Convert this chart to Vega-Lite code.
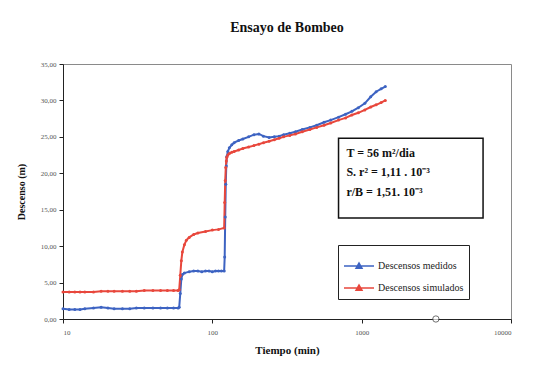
{
  "$schema": "https://vega.github.io/schema/vega-lite/v6.json",
  "width": 448,
  "height": 255,
  "autosize": "none",
  "padding": {"left": 63, "top": 64, "right": 45, "bottom": 47},
  "background": "white",
  "config": {
    "locale": {"number": {"decimal": ",", "thousands": ".", "grouping": [3], "currency": ["", ""]}},
    "view": {"stroke": "#8a8a8a", "strokeWidth": 1},
    "font": "Liberation Serif",
    "axis": {"labelOverlap": false, "grid": false},
    "axisY": {"labelOverlap": false, "tickCount": 8}
  },
  "title": {
    "text": "Ensayo de Bombeo",
    "font": "Liberation Serif",
    "fontSize": 14,
    "fontWeight": "bold",
    "color": "#111",
    "anchor": "middle",
    "offset": 25
  },
  "datasets": {
    "bombeo": [
      {"t": 10, "d": 1.4, "serie": "Descensos medidos"},
      {"t": 11, "d": 1.3, "serie": "Descensos medidos"},
      {"t": 12, "d": 1.3, "serie": "Descensos medidos"},
      {"t": 13, "d": 1.3, "serie": "Descensos medidos"},
      {"t": 14, "d": 1.4, "serie": "Descensos medidos"},
      {"t": 16, "d": 1.5, "serie": "Descensos medidos"},
      {"t": 18, "d": 1.6, "serie": "Descensos medidos"},
      {"t": 20, "d": 1.5, "serie": "Descensos medidos"},
      {"t": 22, "d": 1.4, "serie": "Descensos medidos"},
      {"t": 25, "d": 1.4, "serie": "Descensos medidos"},
      {"t": 28, "d": 1.4, "serie": "Descensos medidos"},
      {"t": 31, "d": 1.5, "serie": "Descensos medidos"},
      {"t": 35, "d": 1.5, "serie": "Descensos medidos"},
      {"t": 40, "d": 1.5, "serie": "Descensos medidos"},
      {"t": 45, "d": 1.5, "serie": "Descensos medidos"},
      {"t": 50, "d": 1.5, "serie": "Descensos medidos"},
      {"t": 55, "d": 1.5, "serie": "Descensos medidos"},
      {"t": 59, "d": 1.5, "serie": "Descensos medidos"},
      {"t": 60, "d": 1.6, "serie": "Descensos medidos"},
      {"t": 61, "d": 3.5, "serie": "Descensos medidos"},
      {"t": 62, "d": 5.5, "serie": "Descensos medidos"},
      {"t": 63, "d": 6.1, "serie": "Descensos medidos"},
      {"t": 65, "d": 6.3, "serie": "Descensos medidos"},
      {"t": 70, "d": 6.5, "serie": "Descensos medidos"},
      {"t": 75, "d": 6.6, "serie": "Descensos medidos"},
      {"t": 80, "d": 6.6, "serie": "Descensos medidos"},
      {"t": 85, "d": 6.5, "serie": "Descensos medidos"},
      {"t": 90, "d": 6.6, "serie": "Descensos medidos"},
      {"t": 95, "d": 6.6, "serie": "Descensos medidos"},
      {"t": 100, "d": 6.5, "serie": "Descensos medidos"},
      {"t": 105, "d": 6.6, "serie": "Descensos medidos"},
      {"t": 110, "d": 6.6, "serie": "Descensos medidos"},
      {"t": 115, "d": 6.6, "serie": "Descensos medidos"},
      {"t": 120, "d": 6.6, "serie": "Descensos medidos"},
      {"t": 121, "d": 8.5, "serie": "Descensos medidos"},
      {"t": 122, "d": 14.0, "serie": "Descensos medidos"},
      {"t": 123, "d": 18.5, "serie": "Descensos medidos"},
      {"t": 124, "d": 21.0, "serie": "Descensos medidos"},
      {"t": 125, "d": 22.3, "serie": "Descensos medidos"},
      {"t": 127, "d": 23.0, "serie": "Descensos medidos"},
      {"t": 130, "d": 23.5, "serie": "Descensos medidos"},
      {"t": 135, "d": 23.9, "serie": "Descensos medidos"},
      {"t": 140, "d": 24.2, "serie": "Descensos medidos"},
      {"t": 150, "d": 24.5, "serie": "Descensos medidos"},
      {"t": 160, "d": 24.7, "serie": "Descensos medidos"},
      {"t": 175, "d": 25.0, "serie": "Descensos medidos"},
      {"t": 190, "d": 25.3, "serie": "Descensos medidos"},
      {"t": 205, "d": 25.4, "serie": "Descensos medidos"},
      {"t": 220, "d": 25.1, "serie": "Descensos medidos"},
      {"t": 240, "d": 24.9, "serie": "Descensos medidos"},
      {"t": 260, "d": 25.0, "serie": "Descensos medidos"},
      {"t": 280, "d": 25.1, "serie": "Descensos medidos"},
      {"t": 300, "d": 25.3, "serie": "Descensos medidos"},
      {"t": 330, "d": 25.5, "serie": "Descensos medidos"},
      {"t": 360, "d": 25.7, "serie": "Descensos medidos"},
      {"t": 400, "d": 26.0, "serie": "Descensos medidos"},
      {"t": 450, "d": 26.3, "serie": "Descensos medidos"},
      {"t": 500, "d": 26.6, "serie": "Descensos medidos"},
      {"t": 560, "d": 27.0, "serie": "Descensos medidos"},
      {"t": 620, "d": 27.3, "serie": "Descensos medidos"},
      {"t": 700, "d": 27.7, "serie": "Descensos medidos"},
      {"t": 780, "d": 28.1, "serie": "Descensos medidos"},
      {"t": 860, "d": 28.5, "serie": "Descensos medidos"},
      {"t": 950, "d": 29.0, "serie": "Descensos medidos"},
      {"t": 1050, "d": 29.6, "serie": "Descensos medidos"},
      {"t": 1150, "d": 30.5, "serie": "Descensos medidos"},
      {"t": 1250, "d": 31.2, "serie": "Descensos medidos"},
      {"t": 1350, "d": 31.6, "serie": "Descensos medidos"},
      {"t": 1440, "d": 31.9, "serie": "Descensos medidos"},

      {"t": 10, "d": 3.7, "serie": "Descensos simulados"},
      {"t": 11, "d": 3.7, "serie": "Descensos simulados"},
      {"t": 12, "d": 3.7, "serie": "Descensos simulados"},
      {"t": 13, "d": 3.7, "serie": "Descensos simulados"},
      {"t": 14, "d": 3.7, "serie": "Descensos simulados"},
      {"t": 16, "d": 3.7, "serie": "Descensos simulados"},
      {"t": 18, "d": 3.8, "serie": "Descensos simulados"},
      {"t": 20, "d": 3.8, "serie": "Descensos simulados"},
      {"t": 22, "d": 3.8, "serie": "Descensos simulados"},
      {"t": 25, "d": 3.8, "serie": "Descensos simulados"},
      {"t": 28, "d": 3.8, "serie": "Descensos simulados"},
      {"t": 31, "d": 3.8, "serie": "Descensos simulados"},
      {"t": 35, "d": 3.9, "serie": "Descensos simulados"},
      {"t": 40, "d": 3.9, "serie": "Descensos simulados"},
      {"t": 45, "d": 3.9, "serie": "Descensos simulados"},
      {"t": 50, "d": 3.9, "serie": "Descensos simulados"},
      {"t": 55, "d": 3.9, "serie": "Descensos simulados"},
      {"t": 59, "d": 3.9, "serie": "Descensos simulados"},
      {"t": 60, "d": 4.0, "serie": "Descensos simulados"},
      {"t": 61, "d": 6.0, "serie": "Descensos simulados"},
      {"t": 62, "d": 8.0, "serie": "Descensos simulados"},
      {"t": 63, "d": 9.2, "serie": "Descensos simulados"},
      {"t": 65, "d": 10.2, "serie": "Descensos simulados"},
      {"t": 67, "d": 10.8, "serie": "Descensos simulados"},
      {"t": 70, "d": 11.2, "serie": "Descensos simulados"},
      {"t": 75, "d": 11.6, "serie": "Descensos simulados"},
      {"t": 80, "d": 11.8, "serie": "Descensos simulados"},
      {"t": 90, "d": 12.0, "serie": "Descensos simulados"},
      {"t": 100, "d": 12.2, "serie": "Descensos simulados"},
      {"t": 110, "d": 12.3, "serie": "Descensos simulados"},
      {"t": 120, "d": 12.5, "serie": "Descensos simulados"},
      {"t": 121, "d": 16.0, "serie": "Descensos simulados"},
      {"t": 122, "d": 19.0, "serie": "Descensos simulados"},
      {"t": 123, "d": 20.8, "serie": "Descensos simulados"},
      {"t": 124, "d": 21.7, "serie": "Descensos simulados"},
      {"t": 125, "d": 22.2, "serie": "Descensos simulados"},
      {"t": 127, "d": 22.5, "serie": "Descensos simulados"},
      {"t": 130, "d": 22.7, "serie": "Descensos simulados"},
      {"t": 135, "d": 22.9, "serie": "Descensos simulados"},
      {"t": 140, "d": 23.0, "serie": "Descensos simulados"},
      {"t": 150, "d": 23.2, "serie": "Descensos simulados"},
      {"t": 160, "d": 23.4, "serie": "Descensos simulados"},
      {"t": 175, "d": 23.6, "serie": "Descensos simulados"},
      {"t": 190, "d": 23.8, "serie": "Descensos simulados"},
      {"t": 205, "d": 24.0, "serie": "Descensos simulados"},
      {"t": 220, "d": 24.2, "serie": "Descensos simulados"},
      {"t": 240, "d": 24.4, "serie": "Descensos simulados"},
      {"t": 260, "d": 24.6, "serie": "Descensos simulados"},
      {"t": 280, "d": 24.8, "serie": "Descensos simulados"},
      {"t": 300, "d": 25.0, "serie": "Descensos simulados"},
      {"t": 330, "d": 25.2, "serie": "Descensos simulados"},
      {"t": 360, "d": 25.4, "serie": "Descensos simulados"},
      {"t": 400, "d": 25.7, "serie": "Descensos simulados"},
      {"t": 450, "d": 26.0, "serie": "Descensos simulados"},
      {"t": 500, "d": 26.3, "serie": "Descensos simulados"},
      {"t": 560, "d": 26.6, "serie": "Descensos simulados"},
      {"t": 620, "d": 26.9, "serie": "Descensos simulados"},
      {"t": 700, "d": 27.3, "serie": "Descensos simulados"},
      {"t": 780, "d": 27.6, "serie": "Descensos simulados"},
      {"t": 860, "d": 28.0, "serie": "Descensos simulados"},
      {"t": 950, "d": 28.3, "serie": "Descensos simulados"},
      {"t": 1050, "d": 28.7, "serie": "Descensos simulados"},
      {"t": 1150, "d": 29.1, "serie": "Descensos simulados"},
      {"t": 1250, "d": 29.4, "serie": "Descensos simulados"},
      {"t": 1350, "d": 29.7, "serie": "Descensos simulados"},
      {"t": 1440, "d": 30.0, "serie": "Descensos simulados"}
    ],
    "parametros": [
      {"t0": 700, "t1": 6500, "d0": 13.85, "d1": 24.8}
    ],
    "textos": [
      {"t": 790, "d": 22.8, "texto": "T =  56 m²/dia"},
      {"t": 790, "d": 20.2, "texto": "S. r² = 1,11 . 10⁻³"},
      {"t": 790, "d": 17.4, "texto": "r/B = 1,51. 10⁻³"}
    ],
    "marcador": [
      {"t": 3140, "d": 0}
    ]
  },
  "encoding": {
    "x": {
      "field": "t",
      "type": "quantitative",
      "scale": {"type": "log", "domain": [10, 10000], "nice": false},
      "axis": {
        "title": "Tiempo (min)",
        "values": [10, 100, 1000, 10000],
        "format": "d",
        "labelOverlap": false,
        "domainColor": "#222",
        "tickColor": "#222",
        "tickSize": 4,
        "labelFont": "Liberation Serif",
        "labelFontSize": 7,
        "labelColor": "#555",
        "labelPadding": 5,
        "titleFont": "Liberation Serif",
        "titleFontSize": 11,
        "titleFontWeight": "bold",
        "titleColor": "#111",
        "titlePadding": 9
      }
    },
    "y": {
      "field": "d",
      "type": "quantitative",
      "scale": {"domain": [0, 35], "nice": false, "zero": true},
      "axis": {
        "title": "Descenso (m)",
        "values": [0, 5, 10, 15, 20, 25, 30, 35],
        "format": ".2f",
        "labelOverlap": false,
        "domainColor": "#222",
        "tickColor": "#222",
        "tickSize": 4,
        "labelFont": "Liberation Serif",
        "labelFontSize": 7,
        "labelColor": "#555",
        "labelPadding": 3,
        "titleFont": "Liberation Serif",
        "titleFontSize": 10,
        "titleFontWeight": "bold",
        "titleColor": "#111",
        "titlePadding": 14
      }
    }
  },
  "layer": [
    {
      "data": {"name": "bombeo"},
      "mark": {"type": "line", "strokeWidth": 2, "point": {"filled": true, "size": 9}},
      "encoding": {
        "color": {
          "field": "serie",
          "type": "nominal",
          "scale": {
            "domain": ["Descensos medidos", "Descensos simulados"],
            "range": ["#3d63c2", "#e8473c"]
          },
          "legend": {
            "title": null,
            "orient": "none",
            "legendX": 275,
            "legendY": 181,
            "direction": "vertical",
            "fillColor": "white",
            "strokeColor": "#222",
            "padding": 5,
            "rowPadding": -2,
            "symbolType": "M-1,0H1M-0.2,0.15L0,-0.2L0.2,0.15Z",
            "symbolSize": 900,
            "symbolStrokeWidth": 1.5,
            "labelFont": "Liberation Serif",
            "labelFontSize": 10,
            "labelColor": "#222",
            "labelOffset": 3
          }
        }
      }
    },
    {
      "data": {"name": "parametros"},
      "mark": {"type": "rect", "fill": "white", "stroke": "#111", "strokeWidth": 1.5},
      "encoding": {
        "x": {"field": "t0", "type": "quantitative"},
        "x2": {"field": "t1"},
        "y": {"field": "d0", "type": "quantitative"},
        "y2": {"field": "d1"}
      }
    },
    {
      "data": {"name": "textos"},
      "mark": {"type": "text", "align": "left", "baseline": "middle", "font": "Liberation Serif", "fontSize": 12, "fontWeight": "bold", "color": "#111"},
      "encoding": {
        "text": {"field": "texto"}
      }
    },
    {
      "data": {"name": "marcador"},
      "mark": {"type": "point", "shape": "circle", "filled": true, "fill": "white", "stroke": "#333", "strokeWidth": 1, "size": 40, "clip": false},
      "encoding": {}
    }
  ]
}
